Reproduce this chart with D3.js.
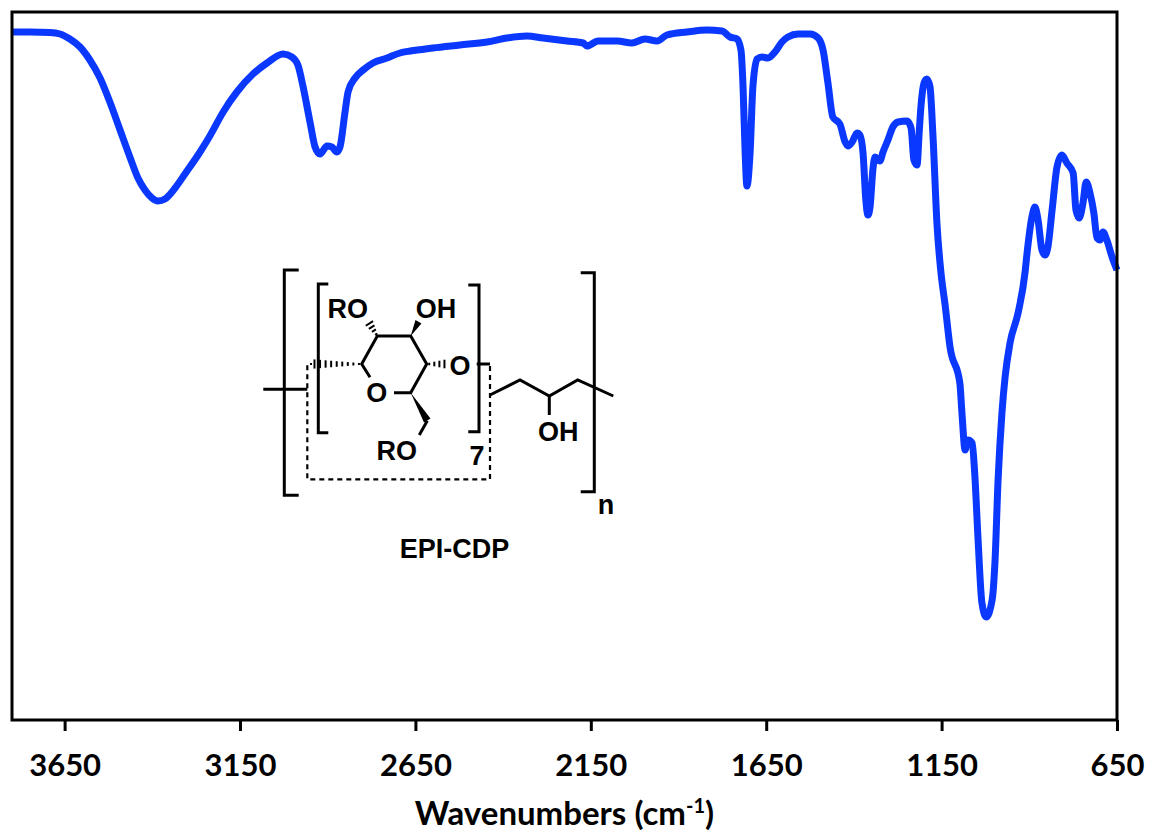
<!DOCTYPE html>
<html lang="en">
<head>
  <meta charset="UTF-8">
  <title>EPI-CDP FTIR</title>
  <script src="https://d3js.org/d3.v7.min.js"></script>
  <style>
    html, body { margin: 0; padding: 0; background: #fff; }
    svg { display: block; }
    .tick-label { font-family: Lato, sans-serif; font-weight: 700; font-size: 31px; fill: #000; }
    .axis-label { font-family: Lato, sans-serif; font-weight: 700; font-size: 33px; fill: #000; }
    .chem { font-family: "Liberation Sans", Arial, sans-serif; font-weight: 700; font-size: 27px; fill: #000; }
  </style>
</head>
<body>
  <script>
    // Spectrum
    const wavenumbers = [3800,3749,3692,3663,3635,3606,3578,3549,3521,3492,3464,3441,3421,3401,3384,3364,3335,3307,3264,3236,3198,3159,3113,3073,3027,3002,2985,2970,2950,2936,2922,2902,2888,2874,2865,2851,2842,2822,2799,2771,2731,2694,2665,2600,2523,2446,2389,2332,2286,2218,2172,2161,2129,2075,2033,1996,1961,1933,1876,1819,1776,1753,1733,1722,1716,1710,1705,1696,1688,1676,1662,1645,1625,1605,1588,1559,1525,1502,1488,1474,1460,1440,1425,1417,1405,1391,1383,1374,1366,1360,1354,1346,1340,1326,1317,1303,1289,1274,1249,1237,1229,1220,1214,1209,1200,1192,1183,1175,1163,1152,1140,1126,1098,1092,1083,1075,1063,1055,1046,1035,1023,1006,998,989,978,969,955,932,912,907,892,884,875,864,855,847,835,821,807,793,775,767,758,747,738,727,716,707,698,690,679,664,650];
    const signal = [688,688,687.5,686,681,673,660,642,618,590,563,542,530,522,519,521,532,546,568,584,608,628,646,657,666,663,655,633,597,573,566,574,573,568,573,607,628,642,650,657,662,667,669,672,675,678,682,684,682,679,677,674,679,679,677,681,679,685,688,690,689,683,681,670,633,567,534,567,633,661,663,662,668,678,683,686,686,682,670,637,603,596,578,574,578,587,585,567,520,505,513,550,563,559,568,580,593,598,599,592,560,555,587,613,637,641,633,587,495,448,415,373,337,307,270,280,277,243,180,117,103,120,157,240,307,343,377,407,448,465,504,513,500,470,465,473,510,553,565,557,547,510,502,517,538,527,507,482,480,488,480,463,450];
    const tickValues = [3650,3150,2650,2150,1650,1150,650];

    const spectrum = wavenumbers.map((w, i) => ({w: w, v: signal[i]}));

    const svg = d3.select("body").append("svg")
      .attr("width", 1149)
      .attr("height", 833);

    const scaleX = d3.scaleLinear().domain([3800, 650]).range([12, 1117]);
    const scaleY = d3.scaleLinear().domain([0, 708]).range([720, 12]);

    // Spectrum line
    const line = d3.line()
      .x(d => scaleX(d.w))
      .y(d => scaleY(d.v))
      .curve(d3.curveMonotoneX);

    svg.append("path")
      .datum(spectrum)
      .attr("d", line)
      .attr("fill", "none")
      .attr("stroke", "#0a38ff")
      .attr("stroke-width", 7)
      .attr("stroke-linejoin", "round")
      .attr("stroke-linecap", "butt");

    // Frame
    svg.append("rect")
      .attr("x", 12).attr("y", 12)
      .attr("width", 1105).attr("height", 708)
      .attr("fill", "none")
      .attr("stroke", "#000")
      .attr("stroke-width", 3);

    // Bottom axis
    const axisX = d3.axisBottom(scaleX)
      .tickValues(tickValues)
      .tickFormat(d3.format("d"))
      .tickSize(11)
      .tickPadding(23);

    const gx = svg.append("g")
      .attr("transform", "translate(0,720)")
      .call(axisX);
    gx.select(".domain").remove();
    gx.selectAll("line").attr("stroke", "#000").attr("stroke-width", 3);
    gx.selectAll("text").attr("class", "tick-label").attr("fill", "#000");

    const title = svg.append("text")
      .attr("class", "axis-label")
      .attr("x", 564.5)
      .attr("y", 825)
      .attr("text-anchor", "middle");
    title.append("tspan").text("Wavenumbers (cm");
    title.append("tspan").attr("dy", -12).attr("font-size", 20).text("-1");
    title.append("tspan").attr("dy", 12).text(")");

    // Polymer structure inset
    const chem = svg.append("g");
    const bonds = [
      "M298.7,270H284.3V495.3H298.7",
      "M580.7,272.7H594.3V491.7H580.7",
      "M328.3,284H318.3V432.7H328.3",
      "M468.3,285H479V431.7H468.3",
      "M370,377.3L361.7,364L377.3,336H410.7L426.7,364L410.7,392.7H394",
      "M427.3,420.7L419.3,435",
      "M476.7,364H490",
      "M263.3,389.3H307.3",
      "M490,395L520,380L549.3,396L577.7,380L613.3,396",
      "M549.3,396V415"
    ];
    chem.selectAll("path.bond").data(bonds).enter().append("path")
      .attr("class", "bond")
      .attr("d", d => d)
      .attr("fill", "none")
      .attr("stroke", "#000")
      .attr("stroke-width", 3);

    chem.append("path")
      .attr("d", "M490,366V479.3H307.3V364H312")
      .attr("fill", "none")
      .attr("stroke", "#000")
      .attr("stroke-width", 2.2)
      .attr("stroke-dasharray", "5,4");

    // Solid wedges
    const wedges = [
      "M410.7,392.7L424,422.5L430.5,418.5Z",
      "M410.7,336L415.5,320L421.5,323.5Z"
    ];
    chem.selectAll("path.wedge").data(wedges).enter().append("path")
      .attr("class", "wedge")
      .attr("d", d => d)
      .attr("fill", "#000");

    // Hashed wedges: [x1, y1, x2, y2, bars]
    const hashes = [
      [361.7, 364, 311.7, 364, 9],
      [377.3, 336, 368.3, 321.7, 4],
      [426.7, 364, 447, 364, 4]
    ];
    hashes.forEach(h => {
      const dx = h[2] - h[0], dy = h[3] - h[1];
      const len = Math.sqrt(dx * dx + dy * dy);
      d3.range(h[4]).forEach(i => {
        const t = (i + 0.5) / h[4];
        const half = 0.8 + t * 4;
        const cx = h[0] + dx * t, cy = h[1] + dy * t;
        chem.append("line")
          .attr("x1", cx - dy / len * half).attr("y1", cy + dx / len * half)
          .attr("x2", cx + dy / len * half).attr("y2", cy - dx / len * half)
          .attr("stroke", "#000")
          .attr("stroke-width", 2);
      });
    });

    const labels = [
      ["RO", 347.7, 318],
      ["OH", 436, 318],
      ["O", 460, 374.7],
      ["O", 376.7, 402.4],
      ["RO", 396.7, 460.4],
      ["7", 477, 464.7],
      ["OH", 558.3, 441.4],
      ["n", 606, 514],
      ["EPI-CDP", 454.5, 557.7]
    ];
    chem.selectAll("text").data(labels).enter().append("text")
      .attr("class", "chem")
      .attr("x", d => d[1])
      .attr("y", d => d[2])
      .attr("text-anchor", "middle")
      .text(d => d[0]);
  </script>
</body>
</html>
